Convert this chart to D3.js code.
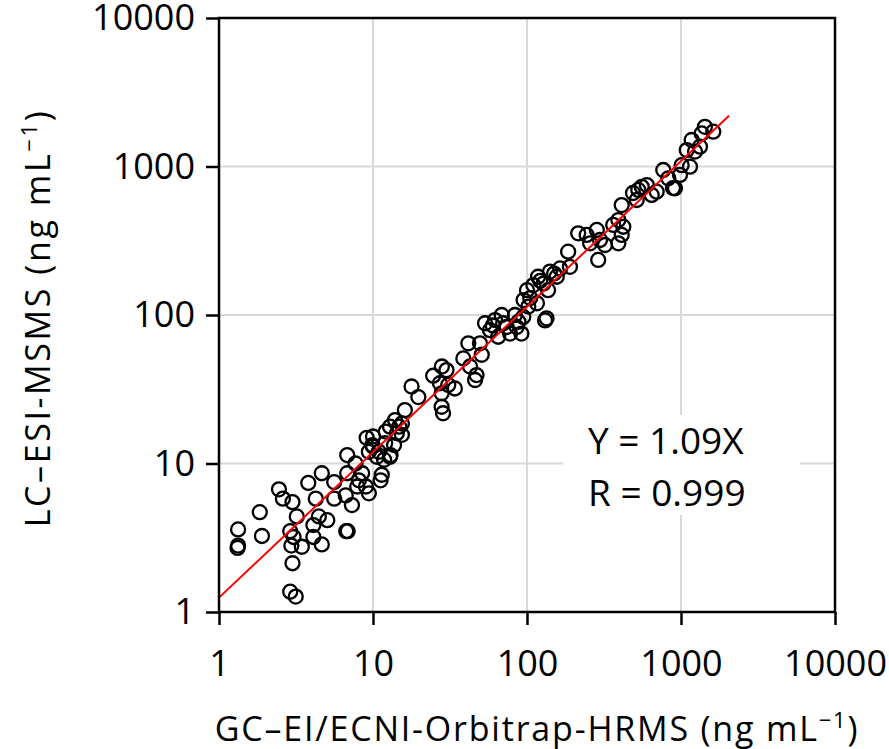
<!DOCTYPE html>
<html>
<head>
<meta charset="utf-8">
<script src="https://cdn.jsdelivr.net/npm/d3@7"></script>
<style>
  body { margin: 0; background: #fff; overflow: hidden; }
  svg { display: block; }
  text { font-family: "Open Sans", sans-serif; fill: #000; }
</style>
</head>
<body>
<div id="chart"></div>
<script>
// GC (x) vs LC (y) concentrations, ng/mL
var gcValues = [
  1.33, 1.33, 1.32, 1.84, 1.9, 2.45, 2.6, 3.0, 3.2, 2.9, 3.05, 2.95, 3.45, 3.0, 2.9, 3.15,
  3.8, 4.25, 4.1, 4.45, 5.05, 4.1, 4.65, 4.65, 5.6, 5.6, 6.65, 7.3, 6.7, 6.85, 6.8, 6.8,
  7.7, 8.1, 8.5, 9.0, 9.4, 11.2, 7.9, 9.1, 9.9, 9.4, 10.9, 11.8, 13, 12.1, 13.7, 14.8,
  10, 10, 10.6, 11.4, 12.9, 12, 12.9, 13.9, 15.4, 14.3, 15.4, 16.1, 17.8, 19.7,
  24.6, 28, 30, 27.2, 30.8, 34, 27.9, 28.5, 27.9, 38.6, 41.6, 42.7, 47, 46, 50.8, 49.5,
  53.4, 57.5, 62, 65, 68.5, 73.8, 77.6, 83.6, 85.7, 92, 94.6, 102, 116, 131, 70, 88, 60,
  100, 110, 118, 128, 137, 141, 156, 164, 134, 190, 185, 215, 244, 257, 284, 298, 321, 290,
  363, 392, 412, 422, 412, 516, 95, 105, 122, 150, 392,
  528, 556, 600, 645, 695, 767, 827, 914, 985, 1010, 1144, 1090, 1173, 1233, 1328, 1362,
  1430, 1620, 488, 887
];
var lcValues = [
  3.6, 2.8, 2.7, 4.7, 3.25, 6.7, 5.8, 5.5, 4.4, 3.5, 3.2, 2.8, 2.75, 2.13, 1.37, 1.27,
  7.4, 5.8, 3.85, 4.4, 4.15, 3.2, 2.85, 8.6, 7.5, 5.8, 6.1, 5.25, 3.5, 3.5, 11.4, 8.6,
  10, 7.7, 8.6, 7.0, 6.3, 7.7, 7.0, 14.9, 13.3, 12, 12, 10.6, 11.4, 16.4, 13.3, 17.7,
  15.2, 13, 11.1, 8.4, 11.1, 13.7, 17.7, 19.6, 18.6, 16, 15.6, 22.9, 33, 28,
  39, 45, 42.6, 34.7, 33.8, 32, 24.1, 21.8, 29.7, 51, 64.5, 45, 39.4, 36.5, 54, 64.5,
  88, 79, 92.5, 71.4, 100, 83, 75, 100, 83, 75, 97, 114, 120, 92, 88, 90, 85,
  147, 159, 181, 163, 147, 196, 181, 206, 95, 211, 267, 355, 346, 304, 374, 320, 296, 235,
  404, 436, 346, 393, 550, 595, 126, 130, 170, 190, 304,
  695, 730, 750, 643, 677, 947, 833, 713, 877, 1020, 997, 1290, 1508, 1260, 1360, 1670,
  1850, 1715, 663, 716
];
var fitLine = [[1, 1.25], [2050, 2200]];
var tickValues = [1, 10, 100, 1000, 10000];
var gridValues = [10, 100, 1000];
var fitText = ["Y = 1.09X", "R = 0.999"];

var width = 889, height = 749;
var margin = {top: 18, right: 54, bottom: 137, left: 219};
var innerWidth = width - margin.left - margin.right,
    innerHeight = height - margin.top - margin.bottom;

var xScale = d3.scaleLog().domain([1, 10000]).range([0, innerWidth]);
var yScale = d3.scaleLog().domain([1, 10000]).range([innerHeight, 0]);

var svg = d3.select("#chart").append("svg")
    .attr("width", width)
    .attr("height", height);

var g = svg.append("g")
    .attr("transform", "translate(" + margin.left + "," + margin.top + ")");

// grid
g.append("g").selectAll("line.vgrid")
  .data(gridValues).enter().append("line")
    .attr("x1", function(d) { return xScale(d); })
    .attr("x2", function(d) { return xScale(d); })
    .attr("y1", 0).attr("y2", innerHeight)
    .attr("stroke", "#d9d9d9").attr("stroke-width", 2);
g.append("g").selectAll("line.hgrid")
  .data(gridValues).enter().append("line")
    .attr("y1", function(d) { return yScale(d); })
    .attr("y2", function(d) { return yScale(d); })
    .attr("x1", 0).attr("x2", innerWidth)
    .attr("stroke", "#d9d9d9").attr("stroke-width", 2);

// white box behind the fit annotation
g.append("rect")
    .attr("x", 344).attr("y", 397)
    .attr("width", 237).attr("height", 100)
    .attr("fill", "#fff");

var data = gcValues.map(function(d, i) { return [d, lcValues[i]]; });

g.append("g").selectAll("circle")
  .data(data).enter().append("circle")
    .attr("cx", function(d) { return xScale(d[0]); })
    .attr("cy", function(d) { return yScale(d[1]); })
    .attr("r", 7)
    .attr("fill", "none")
    .attr("stroke", "#000")
    .attr("stroke-width", 2.3);

g.append("path")
    .datum(fitLine)
    .attr("d", d3.line()
      .x(function(d) { return xScale(d[0]); })
      .y(function(d) { return yScale(d[1]); }))
    .attr("stroke", "#ff0000")
    .attr("stroke-width", 2)
    .attr("fill", "none");

// frame
g.append("rect")
    .attr("width", innerWidth).attr("height", innerHeight)
    .attr("fill", "none").attr("stroke", "#000").attr("stroke-width", 2.5);

var xAxis = g.append("g")
    .attr("class", "x axis")
    .attr("transform", "translate(0," + innerHeight + ")")
    .call(d3.axisBottom(xScale).tickValues(tickValues).tickFormat(d3.format("d"))
      .tickSize(13).tickPadding(25));
var yAxis = g.append("g")
    .attr("class", "y axis")
    .call(d3.axisLeft(yScale).tickValues(tickValues).tickFormat(d3.format("d"))
      .tickSize(13).tickPadding(11));

[xAxis, yAxis].forEach(function(ax) {
  ax.attr("font-size", 36).attr("font-family", "Open Sans, sans-serif");
  ax.select(".domain").remove();
  ax.selectAll("line").attr("stroke", "#000").attr("stroke-width", 2.5);
  ax.selectAll("text").attr("font-size", 36);
});

// annotation
g.append("g").selectAll("text.fit")
  .data(fitText).enter().append("text")
    .attr("x", 369)
    .attr("y", function(d, i) { return 436 + i * 52; })
    .attr("font-size", 37)
    .text(function(d) { return d; });

// axis titles
var xt = svg.append("text")
    .attr("x", 537).attr("y", 741)
    .attr("text-anchor", "middle")
    .attr("font-size", 34)
    .style("letter-spacing", "1.8px");
xt.append("tspan").text("GC\u2013EI/ECNI-Orbitrap-HRMS (ng mL");
xt.append("tspan").attr("dy", -13).attr("font-size", 22).text("\u22121");
xt.append("tspan").attr("dy", 13).text(")");

var yt = svg.append("text")
    .attr("transform", "translate(50," + 318 + ") rotate(-90)")
    .attr("text-anchor", "middle")
    .attr("font-size", 34)
    .style("letter-spacing", "2.6px");
yt.append("tspan").text("LC\u2013ESI-MSMS (ng mL");
yt.append("tspan").attr("dy", -13).attr("font-size", 22).text("\u22121");
yt.append("tspan").attr("dy", 13).text(")");
</script>
</body>
</html>
